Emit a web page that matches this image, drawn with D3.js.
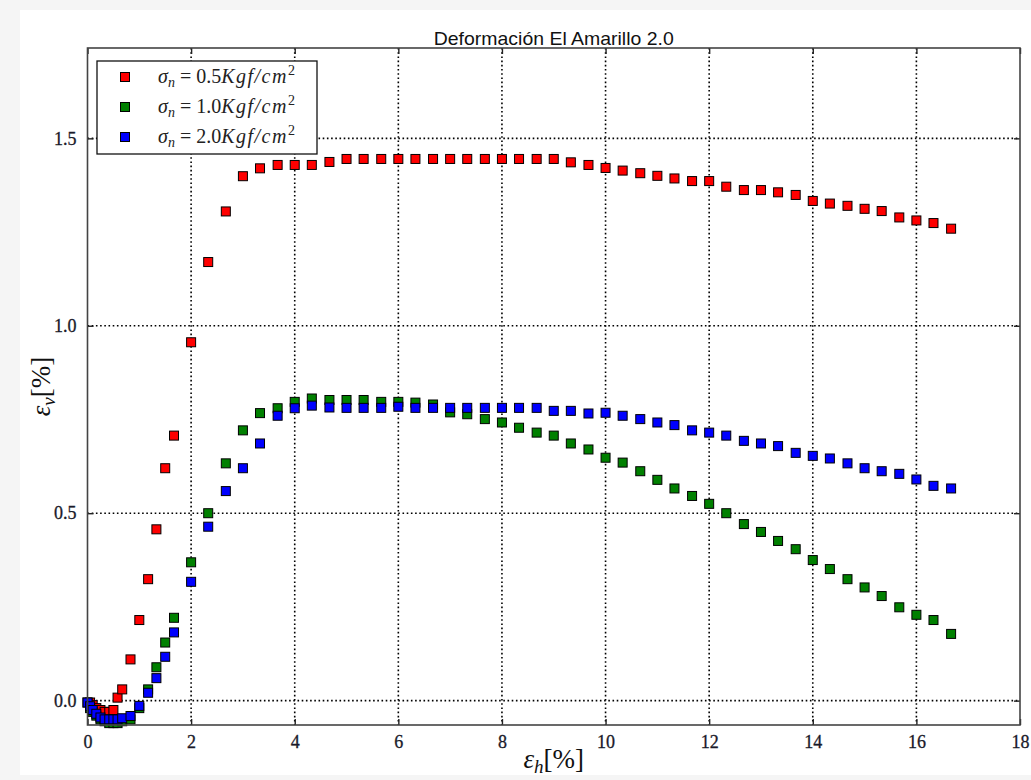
<!DOCTYPE html>
<html><head><meta charset="utf-8">
<script src="https://cdn.jsdelivr.net/npm/d3@7"></script>
<style>body{margin:0;background:#f5f5f5}svg{display:block}</style>
</head><body><svg id="c" width="1031" height="780"></svg>
<script>
// ---- data ----
const titleText = "Deformación El Amarillo 2.0";
const xTicks = [0, 2, 4, 6, 8, 10, 12, 14, 16, 18];
const xTickLabels = ["0", "2", "4", "6", "8", "10", "12", "14", "16", "18"];
const yTicks = [0, 0.5, 1.0, 1.5];
const yTickLabels = ["0.0", "0.5", "1.0", "1.5"];
const seriesLabels = ["0.5", "1.0", "2.0"];
const seriesColors = ["#ff0000", "#008000", "#0000ff"];

const redX = [0.05,0.1,0.17,0.25,0.33,0.42,0.5,0.58,0.67,0.83,1.0,1.17,1.33,1.5,1.67,
  2.0,2.33,2.67,3.0,3.33,3.67,4.0,4.33,4.67,5.0,5.33,5.67,6.0,6.33,6.67,7.0,7.33,7.67,8.0,8.33,8.67,9.0,
  9.33,9.67,10.0,10.33,10.67,11.0,11.33,11.67,12.0,12.33,12.67,13.0,13.33,13.67,14.0,14.33,14.67,15.0,15.33,15.67,16.0,16.33,16.67];
const redY = [-0.005,-0.012,-0.02,-0.025,-0.03,-0.03,-0.025,0.008,0.03,0.11,0.215,0.324,0.457,0.62,0.707,
  0.956,1.17,1.305,1.399,1.42,1.429,1.429,1.429,1.437,1.445,1.445,1.445,1.445,1.445,1.445,1.445,1.445,1.445,1.445,1.445,1.445,1.445,
  1.436,1.429,1.421,1.414,1.407,1.40,1.393,1.386,1.386,1.371,1.362,1.362,1.356,1.349,1.333,1.326,1.32,1.312,1.306,1.289,1.281,1.274,1.259];

const greenX = [0,0.05,0.1,0.17,0.25,0.33,0.42,0.5,0.58,0.67,0.83,1.0,1.17,1.33,1.5,1.67,
  2.0,2.33,2.67,3.0,3.33,3.67,4.0,4.33,4.67,5.0,5.33,5.67,6.0,6.33,6.67,
  7.0,7.33,7.67,8.0,8.33,8.67,9.0,9.33,9.67,
  10.0,10.33,10.67,11.0,11.33,11.67,12.0,12.33,12.67,13.0,13.33,13.67,14.0,14.33,14.67,15.0,15.33,15.67,16.0,16.33,16.67];
const greenY = [-0.005,-0.02,-0.03,-0.04,-0.05,-0.055,-0.06,-0.06,-0.06,-0.055,-0.05,-0.02,0.03,0.089,0.155,0.221,
  0.369,0.50,0.633,0.721,0.767,0.78,0.797,0.806,0.802,0.802,0.802,0.797,0.797,0.795,0.79,
  0.769,0.764,0.751,0.742,0.728,0.715,0.707,0.686,0.670,
  0.648,0.635,0.612,0.589,0.566,0.546,0.525,0.50,0.471,0.45,0.426,0.404,0.375,0.351,0.324,0.302,0.279,0.249,0.229,0.215,0.178];

const blueX = [0,0.05,0.1,0.17,0.25,0.33,0.42,0.5,0.58,0.67,0.83,1.0,1.17,1.33,1.5,1.67,
  2.0,2.33,2.67,3.0,3.33,3.67,4.0,4.33,4.67,5.0,5.33,5.67,6.0,6.33,6.67,
  7.0,7.33,7.67,8.0,8.33,8.67,9.0,9.33,9.67,
  10.0,10.33,10.67,11.0,11.33,11.67,12.0,12.33,12.67,13.0,13.33,13.67,14.0,14.33,14.67,15.0,15.33,15.67,16.0,16.33,16.67];
const blueY = [-0.005,-0.015,-0.025,-0.035,-0.045,-0.05,-0.05,-0.05,-0.05,-0.047,-0.041,-0.014,0.021,0.06,0.117,0.182,
  0.317,0.464,0.559,0.62,0.686,0.76,0.78,0.787,0.782,0.781,0.781,0.781,0.784,0.781,0.781,
  0.781,0.781,0.781,0.781,0.781,0.781,0.773,0.773,0.766,
  0.768,0.760,0.751,0.742,0.735,0.721,0.715,0.707,0.693,0.686,0.679,0.661,0.653,0.646,0.633,0.62,0.612,0.605,0.590,0.573,0.566];

const series = [
  {label: seriesLabels[0], color: seriesColors[0], pts: d3.zip(redX, redY)},
  {label: seriesLabels[1], color: seriesColors[1], pts: d3.zip(greenX, greenY)},
  {label: seriesLabels[2], color: seriesColors[2], pts: d3.zip(blueX, blueY)}
];

// ---- layout ----
const svg = d3.select("#c");
const L = 87.5, R = 1020, T = 48, B = 725;
const x = d3.scaleLinear().domain([0, 18]).range([L, R]);
const y = d3.scaleLinear().domain([-0.065, 1.741]).range([B, T]);
const serif = "'Liberation Serif','DejaVu Serif',serif";

svg.append("rect").attr("x", 20).attr("y", 10).attr("width", 1011).attr("height", 765).attr("fill", "#fff");

// grid
const grid = svg.append("g");
grid.selectAll("line.gx").data(xTicks.slice(1, -1)).join("line")
  .attr("x1", d => x(d)).attr("x2", d => x(d)).attr("y1", T).attr("y2", B)
  .attr("stroke", "#000").attr("stroke-width", 1.6).attr("stroke-dasharray", "1.6,2.6");
grid.selectAll("line.gy").data(yTicks).join("line")
  .attr("x1", L).attr("x2", R).attr("y1", d => y(d)).attr("y2", d => y(d))
  .attr("stroke", "#000").attr("stroke-width", 1.6).attr("stroke-dasharray", "1.6,2.6");

// axes (inward ticks on all sides)
const fmtX = (d, i) => xTickLabels[i];
const fmtY = (d, i) => yTickLabels[i];
const axB = svg.append("g").attr("transform", `translate(0,${B})`)
  .call(d3.axisBottom(x).tickValues(xTicks).tickFormat(fmtX).tickSize(-6).tickPadding(10));
const axT = svg.append("g").attr("transform", `translate(0,${T})`)
  .call(d3.axisTop(x).tickValues(xTicks).tickFormat("").tickSize(-6));
const axLf = svg.append("g").attr("transform", `translate(${L},0)`)
  .call(d3.axisLeft(y).tickValues(yTicks).tickFormat(fmtY).tickSize(-6).tickPadding(11));
const axRt = svg.append("g").attr("transform", `translate(${R},0)`)
  .call(d3.axisRight(y).tickValues(yTicks).tickFormat("").tickSize(-6));
[axB, axT, axLf, axRt].forEach(a => {
  a.select(".domain").remove();
  a.selectAll(".tick line").attr("stroke", "#222").attr("stroke-width", 1.4);
  a.selectAll(".tick text").attr("font-family", serif).attr("font-size", 18)
    .attr("fill", "#1a1a2a").attr("stroke", "#1a1a2a").attr("stroke-width", 0.3);
});
axB.selectAll(".tick text").attr("dy", "0.71em");

// points
series.forEach(s => {
  svg.append("g").selectAll("rect").data(s.pts).join("rect")
    .attr("x", d => x(d[0]) - 4.5).attr("y", d => y(d[1]) - 4.5)
    .attr("width", 9).attr("height", 9)
    .attr("fill", s.color).attr("stroke", "#000").attr("stroke-width", 1);
});

// frame
svg.append("rect").attr("x", L).attr("y", T).attr("width", R - L).attr("height", B - T)
  .attr("fill", "none").attr("stroke", "#444").attr("stroke-width", 1.6);

// title
svg.append("text").attr("x", (L + R) / 2).attr("y", 45).attr("text-anchor", "middle")
  .attr("font-family", "'Liberation Sans',Arial,sans-serif").attr("font-size", 19)
  .attr("textLength", 240).attr("lengthAdjust", "spacingAndGlyphs").attr("fill", "#111")
  .text(titleText);

// axis labels
function epsLabel(g, sub) {
  const t = g.append("text").attr("font-family", serif).attr("font-size", 27).attr("fill", "#111");
  t.append("tspan").attr("font-style", "italic").text("ε");
  t.append("tspan").attr("font-style", "italic").attr("font-size", 19).attr("dy", 5).text(sub);
  t.append("tspan").attr("dy", -5).text("[%]");
  return t;
}
epsLabel(svg.append("g").attr("transform", `translate(${(L + R) / 2},768)`), "h").attr("text-anchor", "middle");
epsLabel(svg.append("g").attr("transform", `translate(50,${(T + B) / 2}) rotate(-90)`), "v").attr("text-anchor", "middle");

// legend
const lg = svg.append("g");
lg.append("rect").attr("x", 97).attr("y", 61).attr("width", 220).attr("height", 93)
  .attr("fill", "#fff").attr("stroke", "#111").attr("stroke-width", 1.3);
series.forEach((s, i) => {
  const yy = 77 + i * 30;
  lg.append("rect").attr("x", 125 - 4.5).attr("y", yy - 4.5).attr("width", 9).attr("height", 9)
    .attr("fill", s.color).attr("stroke", "#000").attr("stroke-width", 1);
  const t = lg.append("text").attr("x", 158).attr("y", yy + 6).attr("font-family", serif)
    .attr("font-size", 20).attr("fill", "#222");
  t.append("tspan").attr("font-style", "italic").text("σ");
  t.append("tspan").attr("font-style", "italic").attr("font-size", 14).attr("dy", 4).text("n");
  t.append("tspan").attr("dy", -4).attr("dx", 5).text("=");
  t.append("tspan").attr("dx", 5).text(s.label);
  t.append("tspan").attr("font-style", "italic").attr("letter-spacing", 1.5).text("Kgf/cm");
  t.append("tspan").attr("font-size", 14).attr("dy", -8).text("2");
});
</script></body></html>
